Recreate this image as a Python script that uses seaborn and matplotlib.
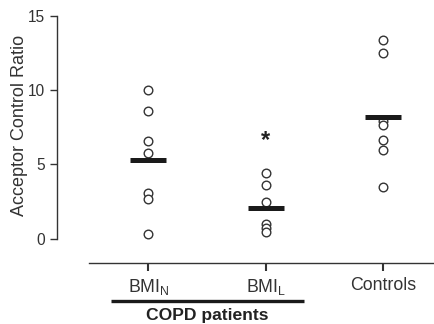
import pandas as pd
import matplotlib
matplotlib.use("Agg")
import matplotlib.pyplot as plt
import matplotlib.transforms as mtransforms
import seaborn as sns

# values
groups = ["BMI_N", "BMI_L", "Controls"]
tick_labels = ["BMI$_{\\mathrm{N}}$", "BMI$_{\\mathrm{L}}$", "Controls"]
bmi_n = [10.0, 8.61, 6.55, 5.76, 3.05, 2.65, 0.36]
bmi_l = [4.40, 3.59, 2.49, 0.99, 0.72, 0.45]
controls = [13.36, 12.49, 7.94, 7.62, 6.64, 5.96, 3.46]
star_group = "BMI_L"
star_y = 6.6

rows = []
for g, vals in zip(groups, [bmi_n, bmi_l, controls]):
    for v in vals:
        rows.append({"group": g, "acr": v})
df = pd.DataFrame(rows)

sns.set_style("ticks")
plt.rcParams["font.family"] = ["Liberation Sans", "DejaVu Sans"]
plt.rcParams["mathtext.fontset"] = "custom"
plt.rcParams["mathtext.rm"] = "Liberation Sans"
ink = "#333333"

fig = plt.figure(figsize=(4.34, 3.24), dpi=100)
ax = fig.add_axes([0.205, 0.187, 0.795, 0.782])

sns.stripplot(data=df, x="group", y="acr", order=groups, jitter=False,
              color="white", edgecolor=ink, linewidth=1.0, size=6.2, ax=ax, zorder=3)
sns.pointplot(data=df, x="group", y="acr", order=groups, estimator="mean",
              errorbar=None, linestyle="none", marker="_", markersize=26,
              markeredgewidth=3.6, color="#1a1a1a", ax=ax, zorder=4)

ax.text(groups.index(star_group), star_y, "*", ha="center", va="center",
        fontsize=17, fontweight="bold", color="#222222")

ax.set_xlim(-0.505, 2.43)
ax.set_ylim(-1.65, 15.38)
ax.set_yticks([0, 5, 10, 15])
ax.set_xticks(range(len(groups)))
ax.set_xticklabels(tick_labels)
ax.set_xlabel("")
ax.set_ylabel("Acceptor Control Ratio", fontsize=13, color=ink)
ax.yaxis.set_label_coords(-0.178, 0.545)

for s in ["top", "right"]:
    ax.spines[s].set_visible(False)
ax.spines["left"].set_position(("outward", 23))
ax.spines["left"].set_bounds(0, 15)
for s in ["left", "bottom"]:
    ax.spines[s].set_color(ink)
    ax.spines[s].set_linewidth(1.0)
ax.tick_params(axis="y", length=5.3, width=1, colors=ink, labelsize=11.2, pad=3.5)
ax.tick_params(axis="x", length=6, width=1.5, colors=ink, labelsize=12.8, pad=4)

# group bracket under the two COPD categories
trans = mtransforms.blended_transform_factory(ax.transData, ax.transAxes)
ax.plot([-0.318, 1.32], [-0.149, -0.149], color="#1a1a1a", lw=2.4,
        transform=trans, clip_on=False, solid_capstyle="butt")
ax.text(0.5, -0.207, "COPD patients", transform=trans, ha="center", va="center",
        fontsize=12.6, fontweight="bold", color="#222222")

fig.savefig("out.png", dpi=100)
